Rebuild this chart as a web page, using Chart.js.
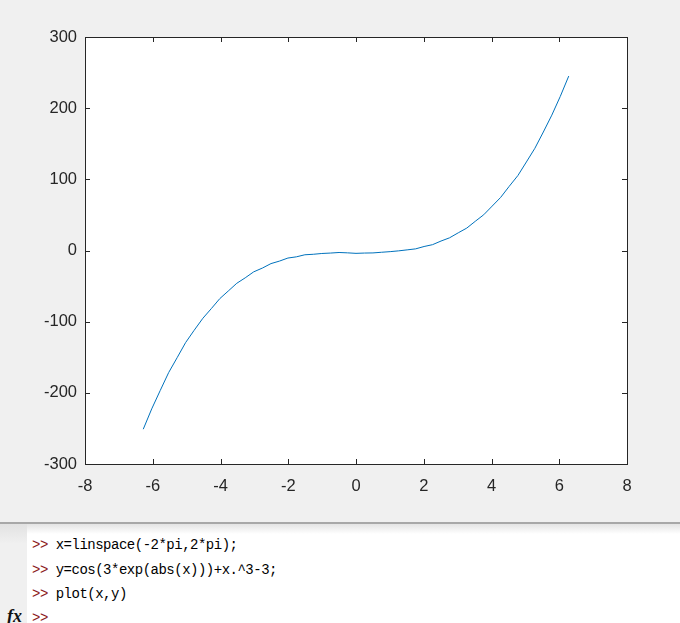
<!DOCTYPE html>
<html>
<head>
<meta charset="utf-8">
<script src="https://cdn.jsdelivr.net/npm/chart.js@4/dist/chart.umd.min.js"></script>
<style>
  html, body { margin: 0; padding: 0; width: 680px; height: 623px; overflow: hidden; background: #fff; }
  #fig { position: absolute; left: 0; top: 0; width: 680px; height: 522px; background: #f0f0f0; }
  #sep { position: absolute; left: 0; top: 522px; width: 680px; height: 2px; background: #a8a8a8; }
  #shadow { position: absolute; left: 0; top: 524px; width: 680px; height: 10px; background: linear-gradient(#e4e4e4, #ffffff); }
  #gutter { position: absolute; left: 0; top: 524px; width: 27px; height: 99px; background: linear-gradient(#e2e2e2, #f0f0f0 20%, #f0f0f0); }
  .line { position: absolute; left: 32px; font-family: "Liberation Mono", "DejaVu Sans Mono", monospace; font-size: 14px; color: #000; white-space: pre; line-height: 16px; letter-spacing: -0.5px; }
  .pr { color: #8b1a1a; }
  #fx { position: absolute; left: 7px; top: 606px; font-family: "Liberation Serif", serif; font-style: italic; font-weight: bold; font-size: 18px; color: #111; }
</style>
</head>
<body>
<div id="fig"><canvas id="c" width="680" height="522"></canvas></div>
<div id="sep"></div>
<div id="shadow"></div>
<div id="gutter"></div>
<div class="line" style="top:537px"><span class="pr">&gt;&gt;</span> x=linspace(-2*pi,2*pi);</div>
<div class="line" style="top:562px"><span class="pr">&gt;&gt;</span> y=cos(3*exp(abs(x)))+x.^3-3;</div>
<div class="line" style="top:586px"><span class="pr">&gt;&gt;</span> plot(x,y)</div>
<div class="line" style="top:610px"><span class="pr">&gt;&gt;</span></div>
<div id="fx">fx</div>
<script>
const xValues = [-6.28,-6.03,-5.78,-5.53,-5.28,-5.03,-4.78,-4.52,-4.27,-4.02,-3.77,-3.52,-3.27,-3.02,-2.76,-2.51,-2.26,-2.01,-1.76,-1.51,-1.26,-1.01,-0.75,-0.50,-0.25,0.00,0.25,0.50,0.75,1.01,1.26,1.51,1.76,2.01,2.26,2.51,2.76,3.02,3.27,3.52,3.77,4.02,4.27,4.52,4.78,5.03,5.28,5.53,5.78,6.03,6.28];
const yValues = [-251.1,-222.5,-196.8,-171.5,-150.6,-129.4,-112.3,-95.2,-81.6,-67.6,-56.9,-46.1,-38.4,-30.0,-24.6,-18.4,-14.9,-10.6,-8.9,-6.0,-5.3,-4.2,-3.6,-2.8,-3.3,-4.0,-3.6,-3.4,-2.5,-1.6,-0.5,0.9,2.3,5.6,8.2,13.3,17.8,24.9,31.5,41.0,50.2,62.4,74.6,90.0,105.4,124.4,143.6,166.5,190.2,216.5,245.1];
const xTicks = [-8,-6,-4,-2,0,2,4,6,8];
const yTicks = [-300,-200,-100,0,100,200,300];

const axisColor = '#262626';
const points = xValues.map((x, i) => ({ x: x, y: yValues[i] }));

const boxTicks = {
  id: 'boxTicks',
  afterDraw(chart) {
    const { ctx, chartArea: a, scales } = chart;
    ctx.save();
    ctx.strokeStyle = axisColor;
    ctx.lineWidth = 1;
    const L = 5;
    ctx.beginPath();
    scales.x.ticks.forEach(t => {
      const px = Math.round(scales.x.getPixelForValue(t.value)) + 0.5;
      ctx.moveTo(px, a.bottom); ctx.lineTo(px, a.bottom - L);
      ctx.moveTo(px, a.top); ctx.lineTo(px, a.top + L);
    });
    scales.y.ticks.forEach(t => {
      const py = Math.round(scales.y.getPixelForValue(t.value)) + 0.5;
      ctx.moveTo(a.left, py); ctx.lineTo(a.left + L, py);
      ctx.moveTo(a.right, py); ctx.lineTo(a.right - L, py);
    });
    ctx.stroke();
    ctx.strokeRect(Math.round(a.left) + 0.5, Math.round(a.top) + 0.5, Math.round(a.right - a.left), Math.round(a.bottom - a.top));
    ctx.restore();
  }
};

const bgPlugin = {
  id: 'plotBg',
  beforeDatasetsDraw(chart) {
    const { ctx, chartArea: a } = chart;
    ctx.save();
    ctx.fillStyle = '#ffffff';
    ctx.fillRect(a.left, a.top, a.right - a.left, a.bottom - a.top);
    ctx.restore();
  }
};

new Chart(document.getElementById('c'), {
  type: 'line',
  data: {
    datasets: [{
      data: points,
      borderColor: '#0072BD',
      borderWidth: 1,
      pointRadius: 0,
      tension: 0,
      fill: false
    }]
  },
  options: {
    responsive: false,
    animation: false,
    events: [],
    layout: { padding: { left: 0, top: 37, right: 53, bottom: 0 } },
    plugins: { legend: { display: false }, tooltip: { enabled: false } },
    scales: {
      x: {
        type: 'linear',
        min: -8, max: 8,
        afterBuildTicks(s) { s.ticks = xTicks.map(v => ({ value: v })); },
        afterFit(s) { s.height = 58; },
        grid: { display: false, drawTicks: false },
        border: { display: false },
        ticks: { color: axisColor, padding: 13, font: { family: 'Liberation Sans, Arial, sans-serif', size: 16.5 }, maxRotation: 0 }
      },
      y: {
        type: 'linear',
        min: -300, max: 300,
        afterBuildTicks(s) { s.ticks = yTicks.map(v => ({ value: v })); },
        afterFit(s) { s.width = 85; },
        grid: { display: false, drawTicks: false },
        border: { display: false },
        ticks: { color: axisColor, padding: 8, font: { family: 'Liberation Sans, Arial, sans-serif', size: 16.5 } }
      }
    }
  },
  plugins: [bgPlugin, boxTicks]
});
</script>
</body>
</html>
